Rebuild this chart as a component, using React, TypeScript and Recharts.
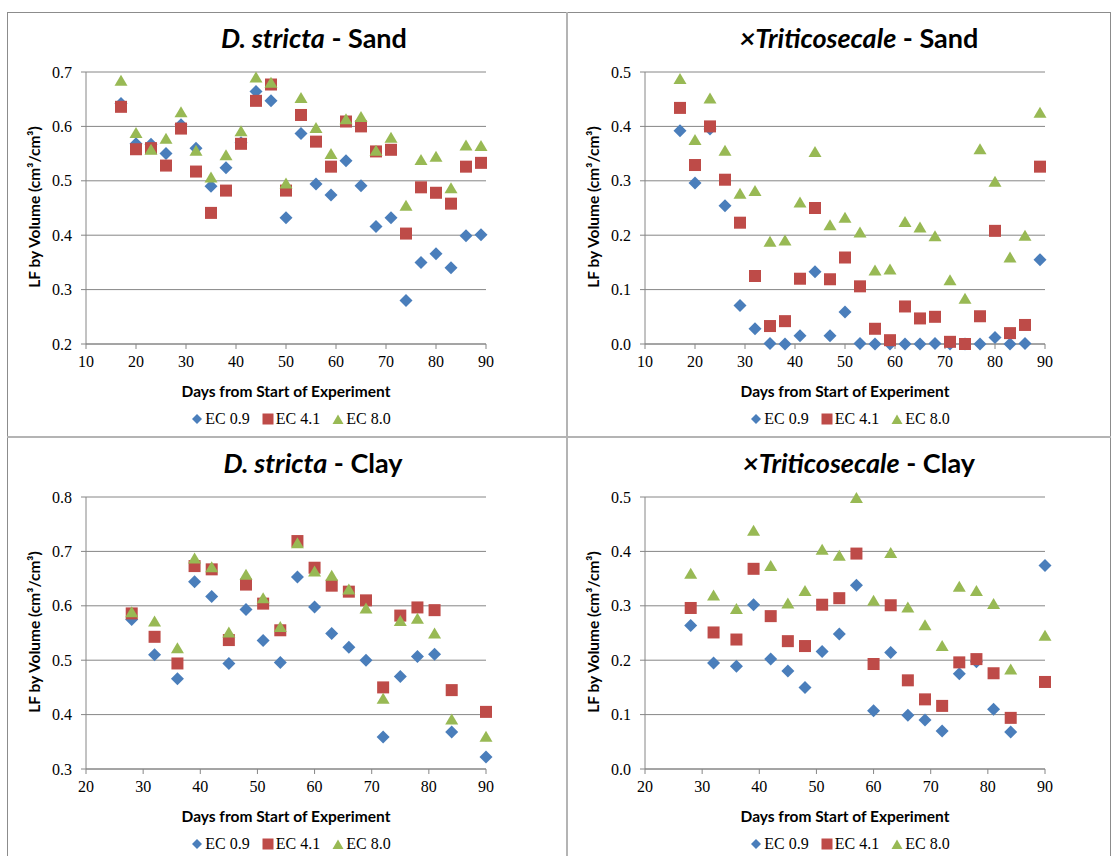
import React from 'react';
import { ScatterChart, Scatter, XAxis, YAxis, CartesianGrid } from 'recharts';

// ---------- DATA ----------
const DAYS_SAND = [17, 20, 23, 26, 29, 32, 35, 38, 41, 44, 47, 50, 53, 56, 59, 62, 65, 68, 71, 74, 77, 80, 83, 86, 89];
const DAYS_CLAY = [28, 32, 36, 39, 42, 45, 48, 51, 54, 57, 60, 63, 66, 69, 72, 75, 78, 81, 84, 90];

const DS_SAND_EC09 = [0.642, 0.568, 0.567, 0.55, 0.603, 0.56, 0.49, 0.524, 0.57, 0.664, 0.647, 0.432, 0.587, 0.494, 0.474, 0.537, 0.491, 0.416, 0.432, 0.28, 0.35, 0.366, 0.34, 0.399, 0.401];
const DS_SAND_EC41 = [0.636, 0.558, 0.56, 0.528, 0.596, 0.517, 0.441, 0.482, 0.568, 0.647, 0.677, 0.482, 0.621, 0.572, 0.526, 0.609, 0.6, 0.554, 0.557, 0.403, 0.488, 0.478, 0.458, 0.526, 0.533];
const DS_SAND_EC80 = [0.685, 0.589, 0.558, 0.578, 0.627, 0.556, 0.507, 0.548, 0.592, 0.691, 0.681, 0.496, 0.653, 0.598, 0.55, 0.614, 0.618, 0.556, 0.58, 0.455, 0.539, 0.545, 0.487, 0.566, 0.565];

const TS_SAND_EC09 = [0.392, 0.296, 0.395, 0.254, 0.071, 0.028, 0.001, 0, 0.015, 0.133, 0.015, 0.059, 0.001, 0, 0, 0, 0, 0.001, 0, 0, 0, 0.012, 0, 0.001, 0.155];
const TS_SAND_EC41 = [0.434, 0.329, 0.4, 0.302, 0.223, 0.125, 0.033, 0.042, 0.12, 0.25, 0.119, 0.159, 0.106, 0.028, 0.007, 0.069, 0.047, 0.05, 0.004, 0, 0.051, 0.208, 0.02, 0.035, 0.326];
const TS_SAND_EC80 = [0.488, 0.376, 0.452, 0.356, 0.277, 0.282, 0.189, 0.191, 0.261, 0.354, 0.219, 0.233, 0.206, 0.136, 0.138, 0.225, 0.215, 0.199, 0.118, 0.084, 0.359, 0.299, 0.16, 0.2, 0.426];

const DS_CLAY_EC09 = [0.575, 0.51, 0.466, 0.644, 0.617, 0.494, 0.593, 0.536, 0.496, 0.653, 0.598, 0.549, 0.524, 0.5, 0.359, 0.47, 0.507, 0.511, 0.368, 0.322];
const DS_CLAY_EC41 = [0.586, 0.543, 0.494, 0.673, 0.667, 0.537, 0.639, 0.604, 0.555, 0.719, 0.67, 0.637, 0.626, 0.61, 0.45, 0.582, 0.597, 0.592, 0.445, 0.405];
const DS_CLAY_EC80 = [0.589, 0.572, 0.523, 0.688, 0.672, 0.552, 0.658, 0.615, 0.562, 0.716, 0.664, 0.656, 0.631, 0.596, 0.43, 0.573, 0.577, 0.55, 0.392, 0.36];

const TS_CLAY_EC09 = [0.264, 0.195, 0.189, 0.302, 0.202, 0.18, 0.15, 0.216, 0.248, 0.338, 0.107, 0.214, 0.099, 0.09, 0.07, 0.175, 0.197, 0.11, 0.068, 0.374];
const TS_CLAY_EC41 = [0.296, 0.251, 0.238, 0.368, 0.281, 0.235, 0.226, 0.302, 0.314, 0.396, 0.193, 0.301, 0.163, 0.128, 0.116, 0.196, 0.202, 0.176, 0.094, 0.16];
const TS_CLAY_EC80 = [0.36, 0.32, 0.295, 0.439, 0.374, 0.305, 0.328, 0.404, 0.393, 0.499, 0.31, 0.398, 0.298, 0.265, 0.227, 0.336, 0.328, 0.304, 0.184, 0.246];

const SERIES_NAMES = ['EC 0.9', 'EC 4.1', 'EC 8.0'];
const X_TICKS_SAND = [10, 20, 30, 40, 50, 60, 70, 80, 90];
const X_TICKS_CLAY = [20, 30, 40, 50, 60, 70, 80, 90];
const Y_TICKS_DS_SAND = [0.2, 0.3, 0.4, 0.5, 0.6, 0.7];
const Y_TICKS_DS_CLAY = [0.3, 0.4, 0.5, 0.6, 0.7, 0.8];
const Y_TICKS_TS = [0, 0.1, 0.2, 0.3, 0.4, 0.5];

// ---------- STYLE ----------
const BLUE = '#4a7ebb';
const RED = '#be4b48';
const GREEN = '#98b954';
const GRID = '#868686';
const SERIF = '"Liberation Serif", "DejaVu Serif", serif';
const SANS = 'Lato, "Open Sans", sans-serif';

const toPoints = (days: number[], vals: number[]) => days.map((d, i) => ({ day: d, v: vals[i] }));

const Diamond = (p: any) => {
  const { cx, cy } = p;
  if (cx == null || cy == null) return null;
  const r = 6.5;
  return <path d={`M${cx},${cy - r}L${cx + r},${cy}L${cx},${cy + r}L${cx - r},${cy}Z`} fill={BLUE} />;
};
const Square = (p: any) => {
  const { cx, cy } = p;
  if (cx == null || cy == null) return null;
  const h = 6;
  return <rect x={cx - h} y={cy - h} width={2 * h} height={2 * h} fill={RED} />;
};
const Triangle = (p: any) => {
  const { cx, cy } = p;
  if (cx == null || cy == null) return null;
  const w = 6.5;
  const h = 5.5;
  return <path d={`M${cx},${cy - h}L${cx + w},${cy + h}L${cx - w},${cy + h}Z`} fill={GREEN} />;
};

const LegendSym = ({ kind }: { kind: number }) => (
  <svg width={12} height={12} style={{ display: 'block' }}>
    {kind === 0 && <path d="M6,1L11,6L6,11L1,6Z" fill={BLUE} />}
    {kind === 1 && <rect x={0.5} y={0.5} width={11} height={11} fill={RED} />}
    {kind === 2 && <path d="M6,1.5L11.5,11L0.5,11Z" fill={GREEN} />}
  </svg>
);

type PanelProps = {
  left: number;
  top: number;
  italic: string;
  rest: string;
  titleCx: number;
  days: number[];
  s1: number[];
  s2: number[];
  s3: number[];
  xDomain: [number, number];
  xTicks: number[];
  yDomain: [number, number];
  yTicks: number[];
};

const Panel = (props: PanelProps) => {
  const { left, top, italic, rest, titleCx, days, s1, s2, s3, xDomain, xTicks, yDomain, yTicks } = props;
  return (
    <div style={{ position: 'absolute', left, top, width: 560, height: 425 }}>
      <ScatterChart width={560} height={425} margin={{ top: 72, left: 26, right: 74, bottom: 51 }} style={{ overflow: 'visible' }}>
        <CartesianGrid horizontal vertical={false} stroke={GRID} strokeWidth={1} />
        <XAxis
          type="number"
          dataKey="day"
          domain={xDomain}
          ticks={xTicks}
          height={30}
          stroke={GRID}
          tickSize={5}
          tickMargin={7}
          tick={{ fill: '#000', fontSize: 16, fontFamily: SERIF }}
          tickLine={{ stroke: GRID }}
          axisLine={{ stroke: GRID }}
        />
        <YAxis
          type="number"
          dataKey="v"
          domain={yDomain}
          ticks={yTicks}
          width={60}
          stroke={GRID}
          tickSize={5}
          tickMargin={9}
          tickFormatter={(v: number) => v.toFixed(1)}
          tick={{ fill: '#000', fontSize: 16, fontFamily: SERIF }}
          tickLine={{ stroke: GRID }}
          axisLine={{ stroke: GRID }}
        />
        <Scatter name={SERIES_NAMES[0]} data={toPoints(days, s1)} shape={Diamond} isAnimationActive={false} />
        <Scatter name={SERIES_NAMES[1]} data={toPoints(days, s2)} shape={Square} isAnimationActive={false} />
        <Scatter name={SERIES_NAMES[2]} data={toPoints(days, s3)} shape={Triangle} isAnimationActive={false} />
      </ScatterChart>
      {/* Title */}
      <div
        style={{
          position: 'absolute',
          left: titleCx - 200,
          width: 400,
          top: 21,
          textAlign: 'center',
          fontFamily: SANS,
          fontWeight: 700,
          fontSize: 27,
          lineHeight: '34px',
          color: '#000',
          whiteSpace: 'nowrap',
        }}
      >
        <span style={{ fontStyle: 'italic' }}>{italic}</span>
        {rest}
      </div>
      {/* Y axis title */}
      <div
        style={{
          position: 'absolute',
          left: 34 - 100,
          top: 207 - 10,
          width: 200,
          height: 20,
          lineHeight: '20px',
          textAlign: 'center',
          transform: 'rotate(-90deg)',
          fontFamily: SANS,
          fontWeight: 700,
          fontSize: 15.5,
          color: '#000',
          whiteSpace: 'nowrap',
        }}
      >
        LF by Volume (cm³/cm³)
      </div>
      {/* X axis title */}
      <div
        style={{
          position: 'absolute',
          left: 86,
          width: 400,
          top: 381,
          textAlign: 'center',
          fontFamily: SANS,
          fontWeight: 700,
          fontSize: 15.5,
          lineHeight: '20px',
          color: '#000',
          whiteSpace: 'nowrap',
        }}
      >
        Days from Start of Experiment
      </div>
      {/* Legend */}
      <div
        style={{
          position: 'absolute',
          left: 91,
          width: 400,
          top: 409,
          height: 20,
          display: 'flex',
          justifyContent: 'center',
          alignItems: 'center',
          fontFamily: SERIF,
          fontSize: 16,
          color: '#000',
        }}
      >
        {SERIES_NAMES.map((n, i) => (
          <div key={n} style={{ display: 'flex', alignItems: 'center', marginLeft: i === 0 ? 0 : 12 }}>
            <LegendSym kind={i} />
            <span style={{ marginLeft: 2, whiteSpace: 'nowrap' }}>{n}</span>
          </div>
        ))}
      </div>
    </div>
  );
};

const line = (s: React.CSSProperties) => <div style={{ position: 'absolute', ...s }} />;

export default function App() {
  return (
    <div style={{ position: 'absolute', left: 0, top: 0, width: 1114, height: 856, background: '#fff', overflow: 'hidden' }}>
      <Panel left={0} top={0} italic="D. stricta" rest=" - Sand" titleCx={314} days={DAYS_SAND}
        s1={DS_SAND_EC09} s2={DS_SAND_EC41} s3={DS_SAND_EC80}
        xDomain={[10, 90]} xTicks={X_TICKS_SAND} yDomain={[0.2, 0.7]} yTicks={Y_TICKS_DS_SAND} />
      <Panel left={559} top={0} italic="×Triticosecale" rest=" - Sand" titleCx={300} days={DAYS_SAND}
        s1={TS_SAND_EC09} s2={TS_SAND_EC41} s3={TS_SAND_EC80}
        xDomain={[10, 90]} xTicks={X_TICKS_SAND} yDomain={[0, 0.5]} yTicks={Y_TICKS_TS} />
      <Panel left={0} top={425} italic="D. stricta" rest=" - Clay" titleCx={313} days={DAYS_CLAY}
        s1={DS_CLAY_EC09} s2={DS_CLAY_EC41} s3={DS_CLAY_EC80}
        xDomain={[20, 90]} xTicks={X_TICKS_CLAY} yDomain={[0.3, 0.8]} yTicks={Y_TICKS_DS_CLAY} />
      <Panel left={559} top={425} italic="×Triticosecale" rest=" - Clay" titleCx={300} days={DAYS_CLAY}
        s1={TS_CLAY_EC09} s2={TS_CLAY_EC41} s3={TS_CLAY_EC80}
        xDomain={[20, 90]} xTicks={X_TICKS_CLAY} yDomain={[0, 0.5]} yTicks={Y_TICKS_TS} />
      {line({ left: 7, top: 12, width: 1, height: 844, background: '#8c8c8c' })}
      {line({ left: 7, top: 12, width: 1104, height: 1, background: '#8c8c8c' })}
      {line({ left: 1110, top: 12, width: 1, height: 844, background: '#8c8c8c' })}
      {line({ left: 566, top: 12, width: 2, height: 844, background: '#b4b4b4' })}
      {line({ left: 7, top: 436, width: 1104, height: 2, background: '#b4b4b4' })}
    </div>
  );
}
